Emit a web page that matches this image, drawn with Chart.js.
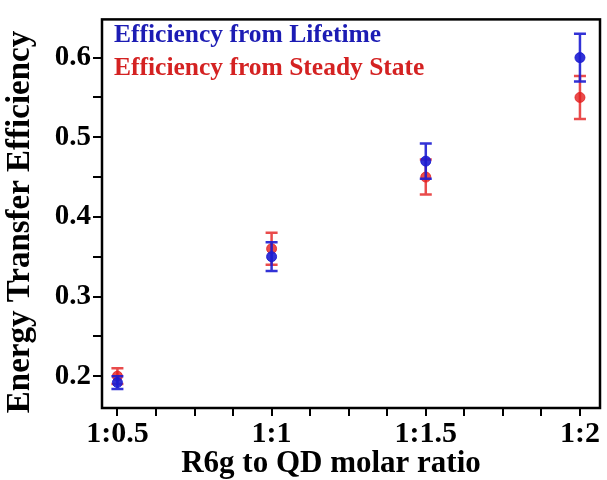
<!DOCTYPE html>
<html>
<head>
<meta charset="utf-8">
<script src="https://cdn.jsdelivr.net/npm/chart.js@4"></script>
<style>
  html, body { margin: 0; padding: 0; background: #fff; }
  #wrap { width: 607px; height: 480px; }
</style>
</head>
<body>
<div id="wrap"><canvas id="chart" width="607" height="480"></canvas></div>
<script>
// Data
const ratios = [0.5, 1, 1.5, 2];
const ratioLabels = ['1:0.5', '1:1', '1:1.5', '1:2'];
const lifetimeEff = [0.192, 0.35, 0.47, 0.60];
const lifetimeErr = [0.008, 0.018, 0.022, 0.030];
const steadyEff = [0.200, 0.36, 0.45, 0.55];
const steadyErr = [0.010, 0.020, 0.022, 0.027];

const xTitle = 'R6g to QD molar ratio';
const yTitle = 'Energy Transfer Efficiency';

const blue = 'rgba(28, 28, 210, 0.9)';
const red = 'rgba(228, 30, 30, 0.8)';
const serif = "'Liberation Serif', 'Times New Roman', serif";

const toPoints = vals => ratios.map((x, i) => ({ x: x, y: vals[i] }));

// error bars drawn from each dataset's own values via the scales
const errorBars = {
  id: 'errorBars',
  beforeDatasetDraw(chart, args) {
    const ds = chart.data.datasets[args.index];
    const xs = chart.scales.x, ys = chart.scales.y;
    const ctx = chart.ctx;
    ctx.save();
    ctx.strokeStyle = ds.borderColor;
    ctx.lineWidth = 2.5;
    ds.data.forEach((p, i) => {
      const px = xs.getPixelForValue(p.x);
      const top = ys.getPixelForValue(p.y + ds.err[i]);
      const bot = ys.getPixelForValue(p.y - ds.err[i]);
      ctx.beginPath();
      ctx.moveTo(px, top); ctx.lineTo(px, bot);
      ctx.moveTo(px - 6, top); ctx.lineTo(px + 6, top);
      ctx.moveTo(px - 6, bot); ctx.lineTo(px + 6, bot);
      ctx.stroke();
    });
    ctx.restore();
  }
};

// frame, legend text and axis titles
const frameAndText = {
  id: 'frameAndText',
  afterDraw(chart) {
    const a = chart.chartArea, ctx = chart.ctx;
    ctx.save();
    ctx.strokeStyle = '#000';
    ctx.lineWidth = 2.5;
    ctx.strokeRect(a.left, a.top, a.right - a.left, a.bottom - a.top);

    ctx.font = 'bold 25.5px ' + serif;
    ctx.textBaseline = 'middle';
    ctx.textAlign = 'left';
    ctx.fillStyle = '#1c1cb4';
    ctx.fillText(chart.data.datasets[0].label, a.left + 12, a.top + 16);
    ctx.fillStyle = '#d42222';
    ctx.fillText(chart.data.datasets[1].label, a.left + 12, a.top + 49);

    ctx.fillStyle = '#000';
    ctx.textAlign = 'center';
    ctx.font = 'bold 31px ' + serif;
    ctx.fillText(xTitle, 331, 464);
    ctx.translate(20, 222);
    ctx.rotate(-Math.PI / 2);
    ctx.font = 'bold 33px ' + serif;
    ctx.fillText(yTitle, 0, 0);
    ctx.restore();
  }
};

new Chart(document.getElementById('chart'), {
  type: 'scatter',
  data: {
    datasets: [
      {
        label: 'Efficiency from Lifetime',
        data: toPoints(lifetimeEff),
        err: lifetimeErr,
        borderColor: blue,
        backgroundColor: blue,
        pointRadius: 5,
        pointBorderWidth: 1
      },
      {
        label: 'Efficiency from Steady State',
        data: toPoints(steadyEff),
        err: steadyErr,
        borderColor: red,
        backgroundColor: red,
        pointRadius: 5,
        pointBorderWidth: 1
      }
    ]
  },
  options: {
    responsive: false,
    animation: false,
    devicePixelRatio: 1,
    layout: { padding: { top: 15, right: 7, left: 0, bottom: 0 } },
    plugins: { legend: { display: false }, tooltip: { enabled: false } },
    scales: {
      x: {
        type: 'linear',
        min: 0.45,
        max: 2.065,
        afterFit: s => { s.height = 72; },
        border: { display: false },
        grid: { drawOnChartArea: false, color: '#000', lineWidth: 2, tickLength: 8 },
        ticks: {
          stepSize: 0.125,
          includeBounds: false,
          autoSkip: false,
          maxRotation: 0,
          padding: 0,
          color: '#000',
          font: { family: serif, size: 30, weight: 'bold' },
          callback: v => {
            const i = ratios.findIndex(r => Math.abs(r - v) < 1e-6);
            return i >= 0 ? ratioLabels[i] : '';
          }
        }
      },
      y: {
        min: 0.16,
        max: 0.648,
        afterFit: s => { s.width = 102; },
        border: { display: false },
        grid: { drawOnChartArea: false, color: '#000', lineWidth: 2, tickLength: 9 },
        ticks: {
          stepSize: 0.05,
          includeBounds: false,
          autoSkip: false,
          padding: 2,
          color: '#000',
          font: { family: serif, size: 29, weight: 'bold' },
          callback: v => Math.abs(v * 10 - Math.round(v * 10)) < 1e-6 ? v.toFixed(1) : ''
        }
      }
    }
  },
  plugins: [errorBars, frameAndText]
});
</script>
</body>
</html>
